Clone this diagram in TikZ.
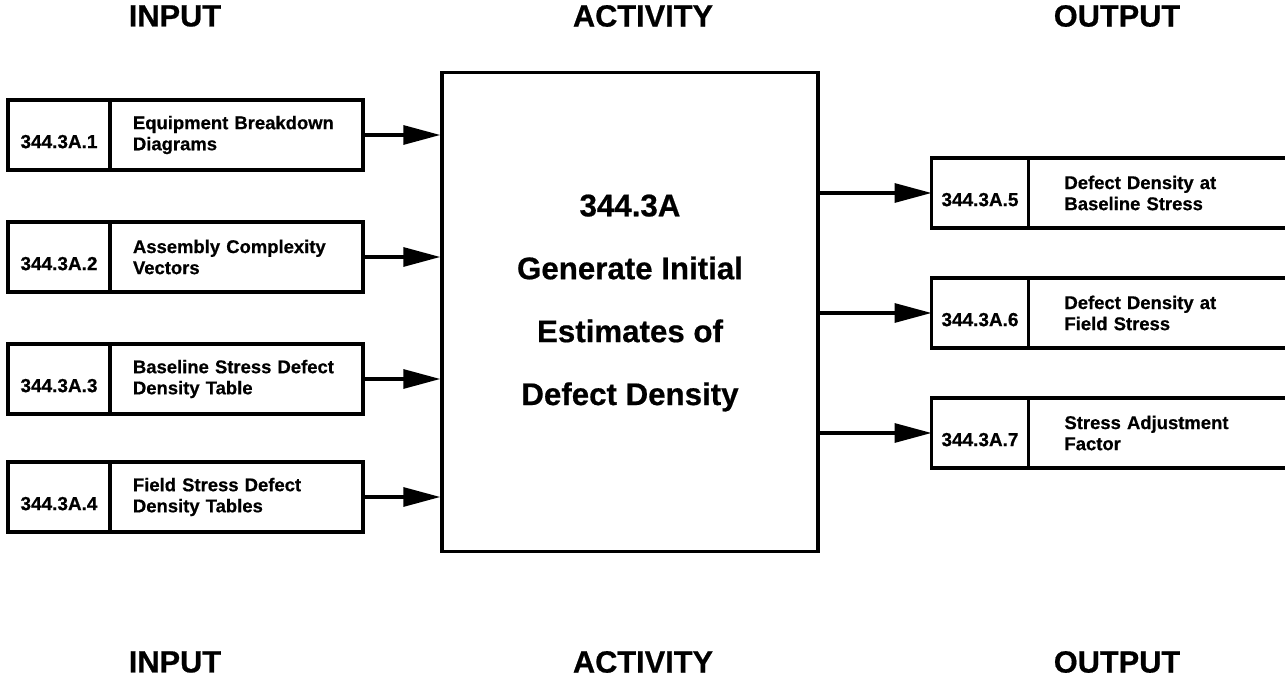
\documentclass[tikz,border=0pt]{standalone}
\usepackage{fontspec}
\setmainfont{Liberation Sans}[FakeBold=0.6]
\usetikzlibrary{positioning,arrows.meta}

\begin{document}
\begin{tikzpicture}[x=0.02cm, y=-0.02cm,
    heading/.style={font=\fontsize{17.5}{20}\selectfont\bfseries},
    idbox/.style={draw, line width=1.8pt, outer sep=0pt, minimum width=2.04cm,
      minimum height=1.4cm, inner sep=0pt, text height=15pt, text depth=0pt,
      font=\fontsize{10.8}{12}\selectfont\bfseries},
    inbox/.style={draw, line width=1.8pt, outer sep=0pt, minimum height=1.4cm,
      text width=4.14cm, inner xsep=0.46cm, inner ysep=0pt, align=left,
      font=\fontsize{10.5}{12}\selectfont\bfseries},
    outbox/.style={inbox, text width=4.0cm, inner xsep=0.72cm},
    actbox/.style={draw, line width=2pt, minimum width=7.52cm, minimum height=9.58cm},
    acttext/.style={align=center, font=\fontsize{17.8}{35.8}\selectfont\bfseries},
    flow/.style={-{Triangle[length=0.74cm,width=0.38cm]}, line width=1.8pt}]

  % page frame, output boxes run off the right edge
  \useasboundingbox (0,0) rectangle (1285,688);
  \clip (0,0) rectangle (1285,688);

  % Headings
  \node[heading] (hin) at (175,16) {INPUT};
  \node[heading] (hact) at (643,16) {ACTIVITY};
  \node[heading] (hout) at (1117,16) {OUTPUT};
  \node[heading] (fin) at (175,662) {INPUT};
  \node[heading] (fact) at (643,662) {ACTIVITY};
  \node[heading] (fout) at (1117,662) {OUTPUT};

  % Activity
  \node[actbox] (act) at (630,312) {};
  \node[acttext] (actlabel) at ([yshift=0.18cm]act.center)
    {344.3A\\Generate Initial\\Estimates of\\Defect Density};

  % Inputs
  \node[idbox] (in1) at (59,135) {344.3A.1};
  \node[inbox, right=0pt of in1] (in1t) {Equipment Breakdown\\Diagrams};
  \node[idbox] (in2) at (59,257) {344.3A.2};
  \node[inbox, right=0pt of in2] (in2t) {Assembly Complexity\\Vectors};
  \node[idbox] (in3) at (59,379) {344.3A.3};
  \node[inbox, right=0pt of in3] (in3t) {Baseline Stress Defect\\Density Table};
  \node[idbox] (in4) at (59,497) {344.3A.4};
  \node[inbox, right=0pt of in4] (in4t) {Field Stress Defect\\Density Tables};

  % Outputs
  \node[idbox, minimum width=1.94cm] (out5) at (980,193) {344.3A.5};
  \node[outbox, right=0pt of out5] (out5t) {Defect Density at\\Baseline Stress};
  \node[idbox, minimum width=1.94cm] (out6) at (980,313) {344.3A.6};
  \node[outbox, right=0pt of out6] (out6t) {Defect Density at\\Field Stress};
  \node[idbox, minimum width=1.94cm] (out7) at (980,433) {344.3A.7};
  \node[outbox, right=0pt of out7] (out7t) {Stress Adjustment\\Factor};

  % Arrows
  \draw[flow] (in1t.east) -- (in1t.east -| act.west);
  \draw[flow] (in2t.east) -- (in2t.east -| act.west);
  \draw[flow] (in3t.east) -- (in3t.east -| act.west);
  \draw[flow] (in4t.east) -- (in4t.east -| act.west);
  \draw[flow] (act.east |- out5.west) -- (out5.west);
  \draw[flow] (act.east |- out6.west) -- (out6.west);
  \draw[flow] (act.east |- out7.west) -- (out7.west);
\end{tikzpicture}
\end{document}
